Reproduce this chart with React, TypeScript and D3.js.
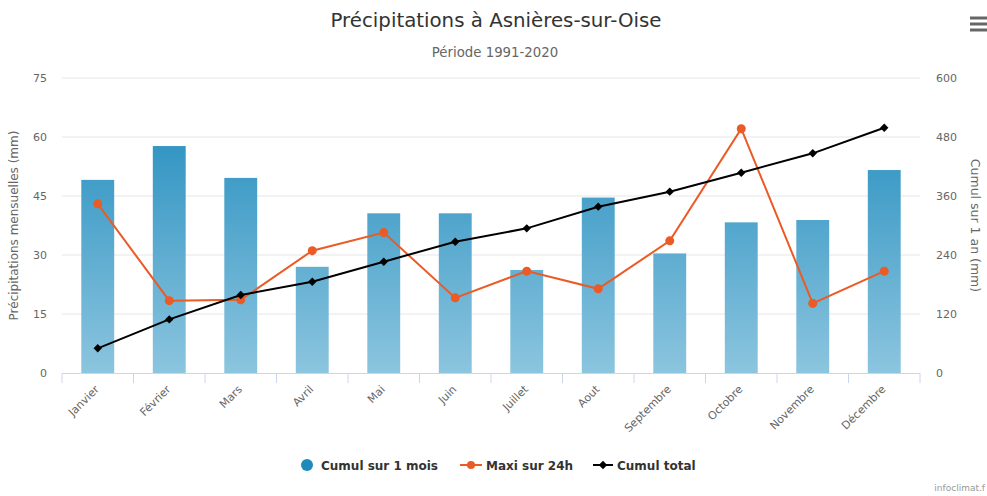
import React from "react";
import * as d3 from "d3";

const months = [
  "Janvier", "Février", "Mars", "Avril", "Mai", "Juin",
  "Juillet", "Aout", "Septembre", "Octobre", "Novembre", "Décembre",
];
// Cumul sur 1 mois (mm)
const cumulMois = [49.1, 57.7, 49.6, 27.0, 40.6, 40.6, 26.2, 44.6, 30.4, 38.3, 38.9, 51.6];
// Maxi sur 24h (mm)
const maxi24h = [43.0, 18.4, 18.6, 31.1, 35.7, 19.1, 25.9, 21.4, 33.6, 62.1, 17.7, 25.9];
// Cumul total (mm, right axis)
const cumulTotal = [50.2, 109.0, 158.6, 185.7, 226.4, 267.0, 294.2, 338.3, 368.8, 407.4, 446.8, 498.9];

const leftTicks = [0, 15, 30, 45, 60, 75];
const rightTicks = [0, 120, 240, 360, 480, 600];

const font = "'DejaVu Sans', Verdana, sans-serif";

const width = 987;
const height = 496;
const marginLeft = 62;
const marginRight = 67;
const marginTop = 78;
const plotBottom = 373;

const App = () => {
  const x = d3
    .scaleBand()
    .domain(months)
    .range([marginLeft, width - marginRight]);
  const yLeft = d3.scaleLinear().domain([0, 75]).range([plotBottom, marginTop]);
  const yRight = d3.scaleLinear().domain([0, 600]).range([plotBottom, marginTop]);

  const barW = x.bandwidth() * 0.46;
  const cx = (m) => x(m) + x.bandwidth() / 2;

  const maxiLine = d3
    .line()
    .x((d, i) => cx(months[i]))
    .y((d) => yLeft(d))(maxi24h);
  const totalLine = d3
    .line()
    .x((d, i) => cx(months[i]))
    .y((d) => yRight(d))(cumulTotal);

  const diamond = d3.symbol().type(d3.symbolDiamond2).size(45)();

  const tickEdges = months.map((m) => x(m)).concat([width - marginRight]);

  return (
    <div style={{ position: "absolute", left: 0, top: 0 }}>
      <svg width={width} height={height} style={{ display: "block" }} fontFamily={font}>
        <defs>
          <linearGradient id="barGrad" gradientUnits="userSpaceOnUse" x1="0" y1={marginTop} x2="0" y2={plotBottom}>
            <stop offset="0%" stopColor="#1a88bb" />
            <stop offset="100%" stopColor="#8cc5df" />
          </linearGradient>
        </defs>
        <rect width={width} height={height} fill="#fff" />

        {/* titles */}
        <text x={496} y={27} textAnchor="middle" fontSize="19.8px" fill="#333">
          Précipitations à Asnières-sur-Oise
        </text>
        <text x={495} y={57} textAnchor="middle" fontSize="13.3px" fill="#666">
          Période 1991-2020
        </text>

        {/* menu icon */}
        <g stroke="#666" strokeWidth={3}>
          {[18, 24, 30].map((yy) => (
            <line key={yy} x1={970} x2={987} y1={yy} y2={yy} />
          ))}
        </g>

        {/* grid */}
        <g stroke="#e6e6e6">
          {leftTicks.slice(1).map((t) => (
            <line key={t} x1={marginLeft} x2={width - marginRight} y1={yLeft(t)} y2={yLeft(t)} />
          ))}
        </g>

        {/* left axis labels */}
        <g fontSize="11px" fill="#666" textAnchor="end">
          {leftTicks.map((t) => (
            <text key={t} x={47} y={yLeft(t) + 4}>
              {t}
            </text>
          ))}
        </g>
        {/* right axis labels */}
        <g fontSize="11px" fill="#666" textAnchor="start">
          {rightTicks.map((t) => (
            <text key={t} x={936} y={yRight(t) + 4}>
              {t}
            </text>
          ))}
        </g>

        <text
          transform={`translate(18,${(marginTop + plotBottom) / 2}) rotate(-90)`}
          textAnchor="middle"
          fontSize="12px"
          fill="#666"
        >
          Précipitations mensuelles (mm)
        </text>
        <text
          transform={`translate(971,${(marginTop + plotBottom) / 2}) rotate(90)`}
          textAnchor="middle"
          fontSize="12.5px"
          fill="#666"
        >
          Cumul sur 1 an (mm)
        </text>

        {/* bars */}
        <g fill="url(#barGrad)">
          {cumulMois.map((v, i) => (
            <rect
              key={months[i]}
              x={cx(months[i]) - barW / 2}
              y={yLeft(v)}
              width={barW}
              height={plotBottom - yLeft(v)}
            />
          ))}
        </g>

        {/* x axis */}
        <line x1={marginLeft} x2={width - marginRight} y1={plotBottom + 0.5} y2={plotBottom + 0.5} stroke="#ccd6eb" />
        <g stroke="#ccd6eb">
          {tickEdges.map((t, i) => (
            <line key={i} x1={t} x2={t} y1={plotBottom} y2={plotBottom + 10} />
          ))}
        </g>
        <g fontSize="11px" fill="#666" textAnchor="end">
          {months.map((m) => (
            <text key={m} transform={`translate(${cx(m) + 2},${plotBottom + 17}) rotate(-45)`}>
              {m}
            </text>
          ))}
        </g>

        {/* maxi 24h */}
        <path d={maxiLine} fill="none" stroke="#ea5b25" strokeWidth={2} />
        <g fill="#ea5b25">
          {maxi24h.map((v, i) => (
            <circle key={i} cx={cx(months[i])} cy={yLeft(v)} r={4.5} />
          ))}
        </g>

        {/* cumul total */}
        <path d={totalLine} fill="none" stroke="#000" strokeWidth={2} />
        <g fill="#000">
          {cumulTotal.map((v, i) => (
            <path key={i} d={diamond} transform={`translate(${cx(months[i])},${yRight(v)})`} />
          ))}
        </g>

        {/* legend */}
        <g fontSize="12px" fontWeight="bold" fill="#333">
          <circle cx={307} cy={465} r={6} fill="#1f8bbd" />
          <text x={321} y={469.5}>Cumul sur 1 mois</text>
          <line x1={460} x2={482} y1={465} y2={465} stroke="#ea5b25" strokeWidth={2} />
          <circle cx={471} cy={465} r={4} fill="#ea5b25" />
          <text x={486} y={469.5}>Maxi sur 24h</text>
          <line x1={593} x2={613} y1={465} y2={465} stroke="#000" strokeWidth={2} />
          <path d={diamond} transform="translate(603,465)" fill="#000" />
          <text x={617} y={469.5}>Cumul total</text>
        </g>

        <text x={985} y={491} textAnchor="end" fontSize="9px" fill="#999">
          infoclimat.f
        </text>
      </svg>
    </div>
  );
};

export default App;
